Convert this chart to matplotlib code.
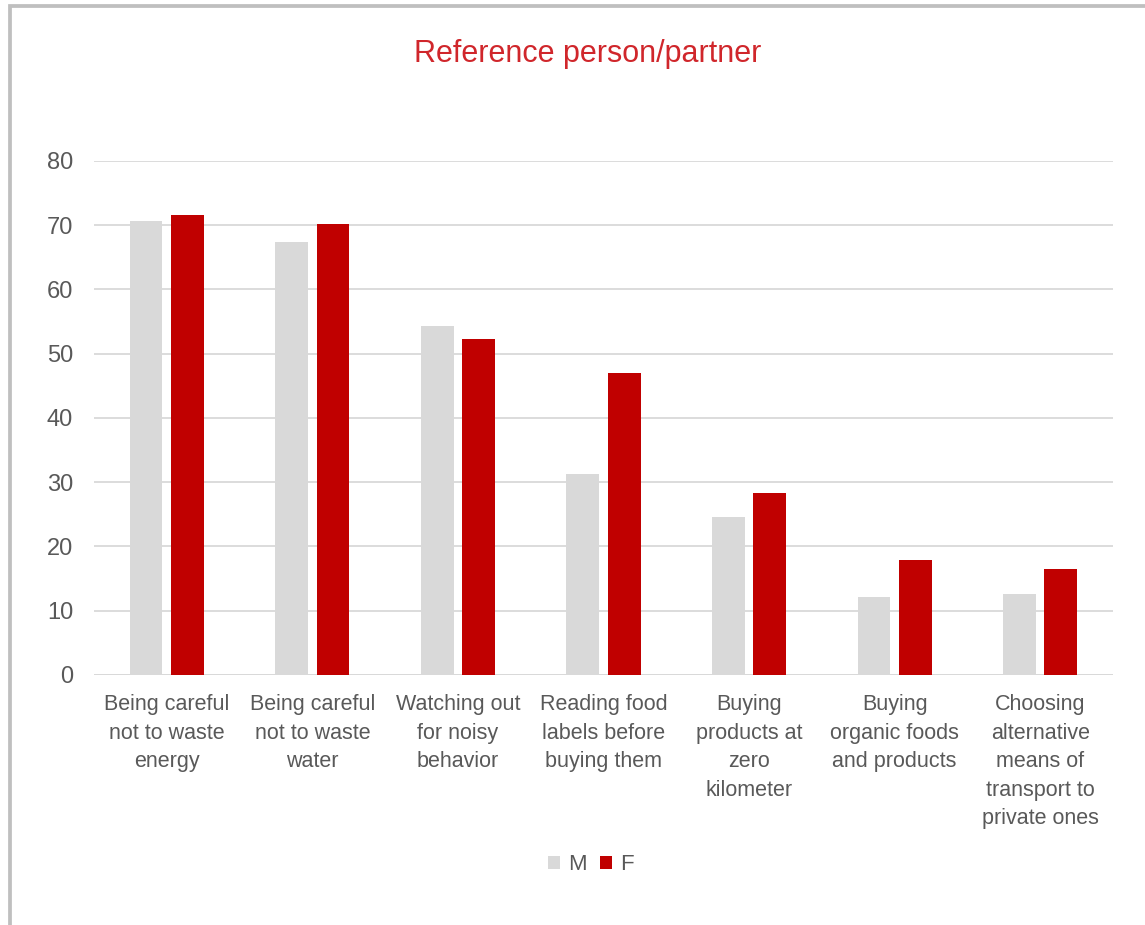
import matplotlib
matplotlib.use("Agg")
import matplotlib.pyplot as plt
import numpy as np
from matplotlib.patches import Rectangle, Patch

plt.rcParams['font.family'] = ['Liberation Sans', 'DejaVu Sans']

categories = [
    "Being careful\nnot to waste\nenergy",
    "Being careful\nnot to waste\nwater",
    "Watching out\nfor noisy\nbehavior",
    "Reading food\nlabels before\nbuying them",
    "Buying\nproducts at\nzero\nkilometer",
    "Buying\norganic foods\nand products",
    "Choosing\nalternative\nmeans of\ntransport to\nprivate ones",
]
male = [70.7, 67.4, 54.3, 31.3, 24.6, 12.1, 12.6]
female = [71.6, 70.2, 52.3, 47.0, 28.3, 17.9, 16.5]
yticks = [0, 10, 20, 30, 40, 50, 60, 70, 80]

text_color = "#595959"
m_color = "#d9d9d9"
f_color = "#c00000"

fig = plt.figure(figsize=(11.45, 9.25), dpi=100)
ax = fig.add_axes([0.0821, 0.2703, 0.8899, 0.5557])

x = np.arange(len(categories))
w = 0.225
ax.bar(x - 0.142, male, width=w, color=m_color, label="M", zorder=3)
ax.bar(x + 0.142, female, width=w, color=f_color, label="F", zorder=3)

ax.set_xlim(-0.5, len(categories) - 0.5)
ax.set_ylim(0, 80)
ax.set_yticks(yticks)
ax.yaxis.grid(True, color="#d9d9d9", linewidth=1.3, zorder=0)
ax.set_axisbelow(True)
for s in ax.spines.values():
    s.set_visible(False)
ax.tick_params(axis='both', length=0, colors=text_color)
ax.tick_params(axis='y', pad=15, labelsize=17)
ax.tick_params(axis='x', pad=14, labelsize=15.5)
ax.set_xticks(x)
ax.set_xticklabels(categories, linespacing=1.47)
ax.axhline(0, color="#d9d9d9", linewidth=1.3, zorder=1)

fig.text(0.5135, 0.942, "Reference person/partner", color="#d0262b",
         fontsize=22, ha="center", va="center")

handles = [Patch(facecolor=m_color, label="M"), Patch(facecolor=f_color, label="F")]
fig.legend(handles=handles, loc="center", bbox_to_anchor=(0.516, 0.065), ncol=2,
           frameon=False, fontsize=16, handlelength=0.55, handleheight=0.55,
           handletextpad=0.35, columnspacing=0.6, labelcolor=text_color)

fig.patches.append(Rectangle((9.5 / 1145, -0.1), 1.2, 1.1 - 6 / 925,
                             transform=fig.transFigure, fill=False,
                             edgecolor="#bfbfbf", linewidth=2.7))

fig.savefig("out.png", dpi=100)
